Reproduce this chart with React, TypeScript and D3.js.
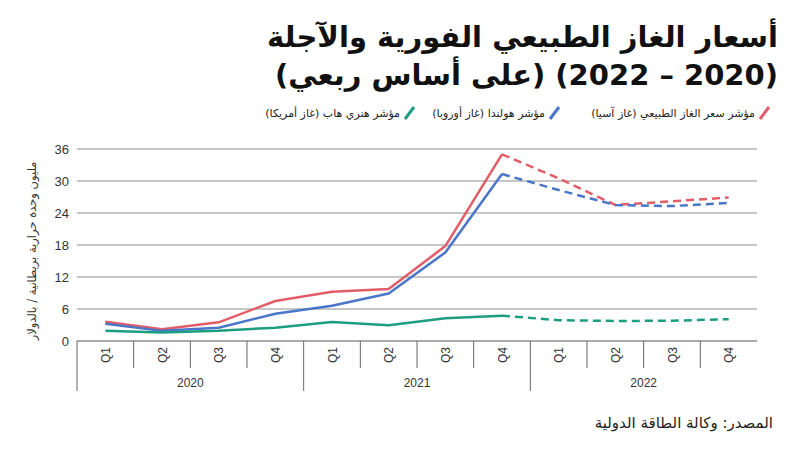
import React from "react";
import * as d3 from "d3";

const quarters = ["Q1", "Q2", "Q3", "Q4", "Q1", "Q2", "Q3", "Q4", "Q1", "Q2", "Q3", "Q4"];
const years = ["2020", "2021", "2022"];
const asia = [3.6, 2.2, 3.5, 7.5, 9.25, 9.75, 17.8, 35.0, 30.5, 25.5, 26.2, 26.9];
const europe = [3.25, 1.9, 2.5, 5.1, 6.6, 8.9, 16.6, 31.3, 28.3, 25.5, 25.3, 25.9];
const us = [1.9, 1.6, 1.9, 2.5, 3.55, 2.95, 4.25, 4.75, 3.9, 3.75, 3.8, 4.1];
const yTicks = [0, 6, 12, 18, 24, 30, 36];
const forecastStart = 7;

const seriesNames = [
  "مؤشر سعر الغاز الطبيعي (غاز آسيا)",
  "مؤشر هولندا (غاز أوروبا)",
  "مؤشر هنري هاب (غاز أمريكا)",
];
const colors = ["#e35d68", "#4a76c9", "#1d9e82"];

const W = 800;
const H = 466;
const left = 77;
const right = 757;
const top = 149;
const bottom = 341;

export default function App() {
  const x = d3.scaleBand<number>().domain(d3.range(quarters.length)).range([left, right]).padding(0);
  const y = d3.scaleLinear().domain([0, 36]).range([bottom, top]);
  const cx = (i: number) => (x(i) as number) + x.bandwidth() / 2;
  const line = d3
    .line<[number, number]>()
    .x((d) => cx(d[0]))
    .y((d) => y(d[1]));

  const series = [asia, europe, us];
  const font = "'Liberation Sans', Arial, sans-serif";
  const arFont = "'DejaVu Sans', sans-serif";

  const legendX = [765, 555, 410];

  return (
    <svg
      width={W}
      height={H}
      style={{ position: "absolute", left: 0, top: 0, display: "block", background: "#fff" }}
    >
      {/* Title */}
      <g fontFamily={arFont} fontWeight="bold" fontSize={29} fill="#111">
        <text x={778} y={47} direction="rtl" textAnchor="start">أسعار الغاز الطبيعي الفورية والآجلة</text>
        <text x={778} y={85} direction="rtl" textAnchor="start">(2020 – 2022) (على أساس ربعي)</text>
      </g>

      {/* Legend */}
      {seriesNames.map((n, i) => (
        <g key={n}>
          <line
            x1={legendX[i] - 5}
            y1={119}
            x2={legendX[i] + 4}
            y2={107}
            stroke={colors[i]}
            strokeWidth={3}
          />
          <text
            x={legendX[i] - 10}
            y={117}
            fontFamily={arFont}
            fontSize={11}
            fill="#222"
            textAnchor="start"
            direction="rtl"
          >
            {n}
          </text>
        </g>
      ))}

      {/* Gridlines */}
      {yTicks.map((t) => (
        <g key={t}>
          {t > 0 && <line x1={left} x2={right} y1={y(t)} y2={y(t)} stroke="#b3b3b3" strokeWidth={1.5} />}
          <text
            x={69}
            y={y(t) + 4.5}
            textAnchor="end"
            fontFamily={font}
            fontSize={13}
            fill="#333"
          >
            {t}
          </text>
        </g>
      ))}

      {/* Y label */}
      <text
        transform={`translate(36,${(top + bottom) / 2 + 6}) rotate(-90)`}
        textAnchor="middle"
        fontFamily={arFont}
        fontSize={11.5}
        fill="#333"
        direction="rtl"
      >
        مليون وحدة حرارية بريطانية / بالدولار
      </text>

      {/* Lines */}
      {series.map((s, i) => {
        const pts: [number, number][] = s.map((v, j) => [j, v]);
        return (
          <g key={i}>
            <path
              d={line(pts.slice(0, forecastStart + 1)) || ""}
              fill="none"
              stroke={colors[i]}
              strokeWidth={2.5}
              strokeLinejoin="round"
            />
            <path
              d={line(pts.slice(forecastStart)) || ""}
              fill="none"
              stroke={colors[i]}
              strokeWidth={2.5}
              strokeDasharray="8,5"
            />
          </g>
        );
      })}

      {/* X axis */}
      <line x1={left} x2={right} y1={bottom} y2={bottom} stroke="#555" strokeWidth={1} />
      {quarters.map((q, i) => {
        const bx = x(i) as number;
        const long = i % 4 === 0;
        return (
          <g key={i}>
            <line x1={bx} x2={bx} y1={bottom} y2={long ? 391 : 368} stroke="#666" strokeWidth={1} />
            <text
              transform={`translate(${cx(i) + 4.5},${355}) rotate(-90)`}
              textAnchor="middle"
              fontFamily={font}
              fontSize={12}
              fill="#333"
            >
              {q}
            </text>
          </g>
        );
      })}
      {years.map((yr, k) => {
        const x0 = x(k * 4) as number;
        const x1 = (x(k * 4 + 3) as number) + x.bandwidth();
        return (
          <text
            key={yr}
            x={(x0 + x1) / 2}
            y={387}
            textAnchor="middle"
            fontFamily={font}
            fontSize={12}
            fill="#333"
          >
            {yr}
          </text>
        );
      })}

      {/* Source */}
      <text
        x={773}
        y={428}
        textAnchor="start"
        fontFamily={arFont}
        fontSize={15}
        fill="#222"
        direction="rtl"
      >
        المصدر: وكالة الطاقة الدولية
      </text>
    </svg>
  );
}
